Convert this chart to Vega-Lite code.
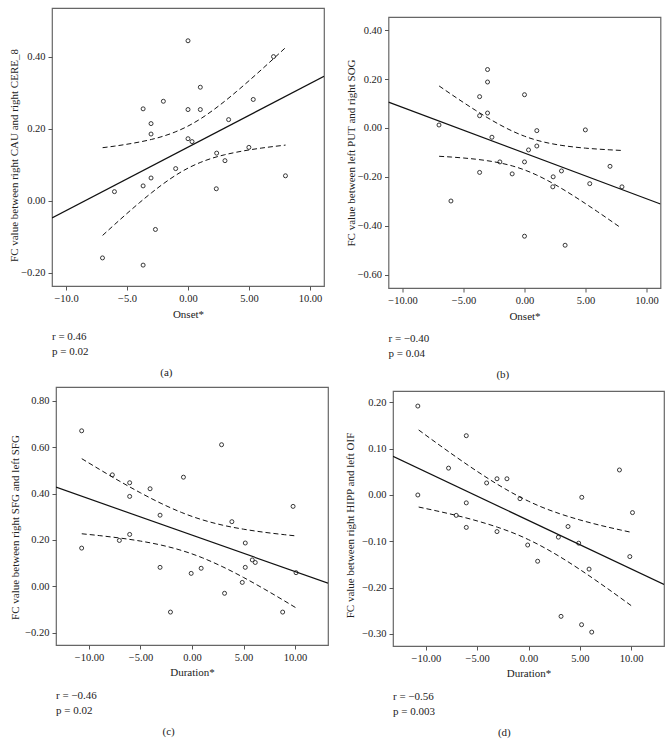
{
  "$schema": "https://vega.github.io/schema/vega-lite/v6.json",
  "padding": {"left": 7, "top": 7, "right": 5, "bottom": 5},
  "background": "white",
  "config": {
    "view": {"stroke": "#666", "strokeWidth": 1.2},
    "axis": {"labelFont": "Liberation Serif", "labelFontSize": 10.5, "titleFont": "Liberation Serif", "titleFontSize": 11, "titleFontWeight": "normal", "labelColor": "#222", "titleColor": "#222", "domain": false, "grid": false, "tickColor": "#555", "tickSize": 4, "labelPadding": 3, "labelFlush": false, "labelOverlap": false},
    "title": {"font": "Liberation Serif", "fontSize": 11, "fontWeight": "normal", "color": "#222"},
    "point": {"shape": "circle", "filled": false, "size": 16, "strokeWidth": 0.9, "color": "#222", "opacity": 1},
    "line": {"color": "#111"}
  },
  "datasets": {
    "gap": [{}],
    "a_pts": [{"x":-7.01,"y":-0.159},{"x":-6.03,"y":0.025},{"x":-3.68,"y":0.255},{"x":-3.68,"y":0.041},{"x":-3.68,"y":-0.179},{"x":-3.03,"y":0.214},{"x":-3.03,"y":0.185},{"x":-3.03,"y":0.063},{"x":-2.67,"y":-0.080},{"x":-2.02,"y":0.276},{"x":-1.01,"y":0.089},{"x":0,"y":0.444},{"x":0,"y":0.253},{"x":0,"y":0.172},{"x":0.33,"y":0.164},{"x":1.01,"y":0.315},{"x":1.01,"y":0.253},{"x":2.35,"y":0.132},{"x":2.32,"y":0.033},{"x":3.03,"y":0.111},{"x":3.33,"y":0.225},{"x":4.99,"y":0.148},{"x":5.35,"y":0.281},{"x":7.01,"y":0.400},{"x":7.99,"y":0.069}],
    "b_pts": [{"x":-7.01,"y":0.012},{"x":-6.03,"y":-0.299},{"x":-3.68,"y":0.128},{"x":-3.68,"y":0.050},{"x":-3.68,"y":-0.182},{"x":-3.03,"y":0.239},{"x":-3.03,"y":0.188},{"x":-3.03,"y":0.061},{"x":-2.67,"y":-0.038},{"x":-2.02,"y":-0.139},{"x":-1.01,"y":-0.188},{"x":0,"y":0.136},{"x":0,"y":-0.139},{"x":0,"y":-0.443},{"x":0.33,"y":-0.090},{"x":1.01,"y":-0.011},{"x":1.01,"y":-0.074},{"x":2.35,"y":-0.200},{"x":2.32,"y":-0.241},{"x":3.03,"y":-0.176},{"x":3.33,"y":-0.480},{"x":4.99,"y":-0.008},{"x":5.35,"y":-0.228},{"x":7.01,"y":-0.157},{"x":7.99,"y":-0.241}],
    "c_pts": [{"x":-10.71,"y":0.671},{"x":-10.71,"y":0.165},{"x":-7.73,"y":0.481},{"x":-7.05,"y":0.198},{"x":-6.05,"y":0.447},{"x":-6.05,"y":0.388},{"x":-6.05,"y":0.224},{"x":-4.07,"y":0.421},{"x":-3.10,"y":0.307},{"x":-3.10,"y":0.082},{"x":-2.09,"y":-0.111},{"x":-0.83,"y":0.471},{"x":-0.08,"y":0.056},{"x":0.89,"y":0.078},{"x":2.87,"y":0.611},{"x":3.16,"y":-0.030},{"x":3.87,"y":0.279},{"x":4.88,"y":0.017},{"x":5.17,"y":0.187},{"x":5.17,"y":0.082},{"x":5.85,"y":0.114},{"x":6.14,"y":0.103},{"x":8.80,"y":-0.111},{"x":9.81,"y":0.345},{"x":10.10,"y":0.059}],
    "d_pts": [{"x":-10.78,"y":0.192},{"x":-10.78,"y":0.000},{"x":-7.79,"y":0.058},{"x":-7.04,"y":-0.044},{"x":-6.06,"y":0.128},{"x":-6.06,"y":-0.017},{"x":-6.06,"y":-0.070},{"x":-4.08,"y":0.026},{"x":-3.07,"y":0.035},{"x":-3.07,"y":-0.079},{"x":-2.10,"y":0.035},{"x":-0.83,"y":-0.008},{"x":-0.08,"y":-0.108},{"x":0.89,"y":-0.143},{"x":2.91,"y":-0.091},{"x":3.17,"y":-0.262},{"x":3.85,"y":-0.068},{"x":4.89,"y":-0.104},{"x":5.19,"y":-0.005},{"x":5.17,"y":-0.280},{"x":5.90,"y":-0.160},{"x":6.16,"y":-0.296},{"x":8.86,"y":0.054},{"x":9.87,"y":-0.133},{"x":10.13,"y":-0.038}],
    "a_fit": [{"x":-11.15,"y":-0.0479},{"x":11.15,"y":0.3453}],
    "b_fit": [{"x":-11.15,"y":0.1054},{"x":11.15,"y":-0.3110}],
    "c_fit": [{"x":-13.2,"y":0.4280},{"x":13.2,"y":0.0138}],
    "d_fit": [{"x":-13.2,"y":0.0834},{"x":13.2,"y":-0.1932}],
    "a_ci": [
      {"x":-7,"y":0.1471,"b":"u"},{"x":-6,"y":0.1515,"b":"u"},{"x":-5,"y":0.1567,"b":"u"},{"x":-4,"y":0.1627,"b":"u"},{"x":-3,"y":0.1700,"b":"u"},{"x":-2,"y":0.1793,"b":"u"},{"x":-1,"y":0.1915,"b":"u"},{"x":0,"y":0.2071,"b":"u"},{"x":1,"y":0.2267,"b":"u"},{"x":2,"y":0.2499,"b":"u"},{"x":3,"y":0.2758,"b":"u"},{"x":4,"y":0.3037,"b":"u"},{"x":5,"y":0.3330,"b":"u"},{"x":6,"y":0.3631,"b":"u"},{"x":7,"y":0.3939,"b":"u"},{"x":8,"y":0.4251,"b":"u"},
      {"x":-7,"y":-0.0965,"b":"l"},{"x":-6,"y":-0.0657,"b":"l"},{"x":-5,"y":-0.0355,"b":"l"},{"x":-4,"y":-0.0063,"b":"l"},{"x":-3,"y":0.0216,"b":"l"},{"x":-2,"y":0.0475,"b":"l"},{"x":-1,"y":0.0707,"b":"l"},{"x":0,"y":0.0903,"b":"l"},{"x":1,"y":0.1059,"b":"l"},{"x":2,"y":0.1181,"b":"l"},{"x":3,"y":0.1274,"b":"l"},{"x":4,"y":0.1347,"b":"l"},{"x":5,"y":0.1408,"b":"l"},{"x":6,"y":0.1459,"b":"l"},{"x":7,"y":0.1503,"b":"l"},{"x":8,"y":0.1543,"b":"l"}
    ],
    "b_ci": [
      {"x":-7,"y":0.1718,"b":"u"},{"x":-6,"y":0.1375,"b":"u"},{"x":-5,"y":0.1040,"b":"u"},{"x":-4,"y":0.0717,"b":"u"},{"x":-3,"y":0.0409,"b":"u"},{"x":-2,"y":0.0124,"b":"u"},{"x":-1,"y":-0.0128,"b":"u"},{"x":0,"y":-0.0338,"b":"u"},{"x":1,"y":-0.0502,"b":"u"},{"x":2,"y":-0.0622,"b":"u"},{"x":3,"y":-0.0711,"b":"u"},{"x":4,"y":-0.0777,"b":"u"},{"x":5,"y":-0.0827,"b":"u"},{"x":6,"y":-0.0865,"b":"u"},{"x":7,"y":-0.0896,"b":"u"},{"x":7.9,"y":-0.0920,"b":"u"},
      {"x":-7,"y":-0.1160,"b":"l"},{"x":-6,"y":-0.1191,"b":"l"},{"x":-5,"y":-0.1230,"b":"l"},{"x":-4,"y":-0.1279,"b":"l"},{"x":-3,"y":-0.1345,"b":"l"},{"x":-2,"y":-0.1434,"b":"l"},{"x":-1,"y":-0.1554,"b":"l"},{"x":0,"y":-0.1718,"b":"l"},{"x":1,"y":-0.1928,"b":"l"},{"x":2,"y":-0.2180,"b":"l"},{"x":3,"y":-0.2465,"b":"l"},{"x":4,"y":-0.2773,"b":"l"},{"x":5,"y":-0.3097,"b":"l"},{"x":6,"y":-0.3431,"b":"l"},{"x":7,"y":-0.3774,"b":"l"},{"x":7.8,"y":-0.4052,"b":"l"}
    ],
    "c_ci": [
      {"x":-10.7,"y":0.5508,"b":"u"},{"x":-9,"y":0.5052,"b":"u"},{"x":-7,"y":0.4530,"b":"u"},{"x":-5,"y":0.4035,"b":"u"},{"x":-3,"y":0.3579,"b":"u"},{"x":-1,"y":0.3185,"b":"u"},{"x":0,"y":0.3017,"b":"u"},{"x":1,"y":0.2871,"b":"u"},{"x":3,"y":0.2637,"b":"u"},{"x":5,"y":0.2466,"b":"u"},{"x":7,"y":0.2334,"b":"u"},{"x":9,"y":0.2228,"b":"u"},{"x":10.1,"y":0.2176,"b":"u"},
      {"x":-10.7,"y":0.2268,"b":"l"},{"x":-9,"y":0.2190,"b":"l"},{"x":-7,"y":0.2084,"b":"l"},{"x":-5,"y":0.1953,"b":"l"},{"x":-3,"y":0.1781,"b":"l"},{"x":-1,"y":0.1547,"b":"l"},{"x":0,"y":0.1401,"b":"l"},{"x":1,"y":0.1233,"b":"l"},{"x":3,"y":0.0839,"b":"l"},{"x":5,"y":0.0384,"b":"l"},{"x":7,"y":-0.0112,"b":"l"},{"x":9,"y":-0.0634,"b":"l"},{"x":10.1,"y":-0.0928,"b":"l"}
    ],
    "d_ci": [
      {"x":-10.7,"y":0.1404,"b":"u"},{"x":-9,"y":0.1129,"b":"u"},{"x":-7,"y":0.0813,"b":"u"},{"x":-5,"y":0.0510,"b":"u"},{"x":-3,"y":0.0227,"b":"u"},{"x":-1,"y":-0.0024,"b":"u"},{"x":0,"y":-0.0134,"b":"u"},{"x":1,"y":-0.0234,"b":"u"},{"x":3,"y":-0.0401,"b":"u"},{"x":5,"y":-0.0538,"b":"u"},{"x":7,"y":-0.0655,"b":"u"},{"x":9,"y":-0.0757,"b":"u"},{"x":10.1,"y":-0.0810,"b":"u"},
      {"x":-10.7,"y":-0.0260,"b":"l"},{"x":-9,"y":-0.0341,"b":"l"},{"x":-7,"y":-0.0443,"b":"l"},{"x":-5,"y":-0.0560,"b":"l"},{"x":-3,"y":-0.0697,"b":"l"},{"x":-1,"y":-0.0864,"b":"l"},{"x":0,"y":-0.0964,"b":"l"},{"x":1,"y":-0.1074,"b":"l"},{"x":3,"y":-0.1325,"b":"l"},{"x":5,"y":-0.1608,"b":"l"},{"x":7,"y":-0.1911,"b":"l"},{"x":9,"y":-0.2227,"b":"l"},{"x":10.1,"y":-0.2404,"b":"l"}
    ]
  },
  "spacing": 5,
  "vconcat": [
    {
      "spacing": 0,
      "hconcat": [
        {"width": 1, "height": 1, "data": {"name": "gap"}, "mark": {"type": "rect", "opacity": 0}, "encoding": {}, "view": {"stroke": null}},
        {
          "spacing": 19.5,
          "hconcat": [
            {
              "spacing": 0,
              "title": {"text": "(a)", "orient": "bottom", "anchor": "middle", "frame": "bounds", "offset": 10},
              "vconcat": [
                {
                  "width": 272, "height": 278,
                  "title": {"text": ["r = 0.46", "p = 0.02"], "orient": "bottom", "anchor": "start", "frame": "group", "offset": 11, "lineHeight": 15},
                  "encoding": {
                    "x": {"field": "x", "type": "quantitative", "title": "Onset*", "scale": {"domain": [-11.15, 11.15], "nice": false, "zero": false}, "axis": {"values": [-10, -5, 0, 5, 10], "labelExpr": "format(datum.value, datum.value < 0 ? '.1f' : '.2f')", "titlePadding": 5}},
                    "y": {"field": "y", "type": "quantitative", "title": "FC value between right CAU and right CERE_8", "scale": {"domain": [-0.237, 0.535], "nice": false, "zero": false}, "axis": {"values": [-0.2, 0, 0.2, 0.4], "format": ".2f", "titlePadding": 1, "titleY": 147}}
                  },
                  "layer": [
                    {"data": {"name": "a_pts"}, "mark": {"type": "point", "clip": true}},
                    {"data": {"name": "a_fit"}, "mark": {"type": "line", "strokeWidth": 1.2, "clip": true}},
                    {"data": {"name": "a_ci"}, "mark": {"type": "line", "strokeWidth": 1, "strokeDash": [5, 3], "interpolate": "monotone", "clip": true}, "encoding": {"detail": {"field": "b"}}}
                  ]
                }
              ]
            },
            {
              "spacing": 0,
              "title": {"text": "(b)", "orient": "bottom", "anchor": "middle", "frame": "bounds", "offset": 10},
              "vconcat": [
                {"width": 1, "height": 8, "data": {"name": "gap"}, "mark": {"type": "rect", "opacity": 0}, "encoding": {}, "view": {"stroke": null}},
                {
                  "width": 272, "height": 271,
                  "title": {"text": ["r = −0.40", "p = 0.04"], "orient": "bottom", "anchor": "start", "frame": "group", "offset": 11, "lineHeight": 15},
                  "encoding": {
                    "x": {"field": "x", "type": "quantitative", "title": "Onset*", "scale": {"domain": [-11.15, 11.15], "nice": false, "zero": false}, "axis": {"values": [-10, -5, 0, 5, 10], "format": ".2f", "titlePadding": 5}},
                    "y": {"field": "y", "type": "quantitative", "title": "FC value between left PUT and right SOG", "scale": {"domain": [-0.655, 0.454], "nice": false, "zero": false}, "axis": {"values": [-0.6, -0.4, -0.2, 0, 0.2, 0.4], "format": ".2f", "titlePadding": 1}}
                  },
                  "layer": [
                    {"data": {"name": "b_pts"}, "mark": {"type": "point", "clip": true}},
                    {"data": {"name": "b_fit"}, "mark": {"type": "line", "strokeWidth": 1.2, "clip": true}},
                    {"data": {"name": "b_ci"}, "mark": {"type": "line", "strokeWidth": 1, "strokeDash": [5, 3], "interpolate": "monotone", "clip": true}, "encoding": {"detail": {"field": "b"}}}
                  ]
                }
              ]
            }
          ]
        }
      ]
    },
    {
      "spacing": 0,
      "hconcat": [
        {"width": 1, "height": 1, "data": {"name": "gap"}, "mark": {"type": "rect", "opacity": 0}, "encoding": {}, "view": {"stroke": null}},
        {
          "spacing": 15,
          "hconcat": [
            {
              "spacing": 0,
              "title": {"text": "(c)", "orient": "bottom", "anchor": "middle", "frame": "bounds", "offset": 9},
              "vconcat": [
                {
                  "width": 272, "height": 258,
                  "title": {"text": ["r = −0.46", "p = 0.02"], "orient": "bottom", "anchor": "start", "frame": "group", "offset": 12.5, "lineHeight": 15},
                  "encoding": {
                    "x": {"field": "x", "type": "quantitative", "title": "Duration*", "scale": {"domain": [-13.2, 13.2], "nice": false, "zero": false}, "axis": {"values": [-10, -5, 0, 5, 10], "format": ".2f", "titlePadding": 4}},
                    "y": {"field": "y", "type": "quantitative", "title": "FC value between right SFG and left SFG", "scale": {"domain": [-0.253, 0.86], "nice": false, "zero": false}, "axis": {"values": [-0.2, 0, 0.2, 0.4, 0.6, 0.8], "format": ".2f", "titlePadding": 4.4, "titleY": 140}}
                  },
                  "layer": [
                    {"data": {"name": "c_pts"}, "mark": {"type": "point", "clip": true}},
                    {"data": {"name": "c_fit"}, "mark": {"type": "line", "strokeWidth": 1.2, "clip": true}},
                    {"data": {"name": "c_ci"}, "mark": {"type": "line", "strokeWidth": 1, "strokeDash": [5, 3], "interpolate": "monotone", "clip": true}, "encoding": {"detail": {"field": "b"}}}
                  ]
                }
              ]
            },
            {
              "spacing": 0,
              "title": {"text": "(d)", "orient": "bottom", "anchor": "middle", "frame": "bounds", "offset": 9},
              "vconcat": [
                {"width": 1, "height": 3, "data": {"name": "gap"}, "mark": {"type": "rect", "opacity": 0}, "encoding": {}, "view": {"stroke": null}},
                {
                  "width": 271, "height": 255,
                  "title": {"text": ["r = −0.56", "p = 0.003"], "orient": "bottom", "anchor": "start", "frame": "group", "offset": 12.5, "lineHeight": 15},
                  "encoding": {
                    "x": {"field": "x", "type": "quantitative", "title": "Duration*", "scale": {"domain": [-13.2, 13.2], "nice": false, "zero": false}, "axis": {"values": [-10, -5, 0, 5, 10], "format": ".2f", "titlePadding": 4}},
                    "y": {"field": "y", "type": "quantitative", "title": "FC value between right HIPP and left OIF", "scale": {"domain": [-0.326, 0.2245], "nice": false, "zero": false}, "axis": {"values": [-0.3, -0.2, -0.1, 0, 0.1, 0.2], "format": ".2f", "titlePadding": 6, "titleY": 134}}
                  },
                  "layer": [
                    {"data": {"name": "d_pts"}, "mark": {"type": "point", "clip": true}},
                    {"data": {"name": "d_fit"}, "mark": {"type": "line", "strokeWidth": 1.2, "clip": true}},
                    {"data": {"name": "d_ci"}, "mark": {"type": "line", "strokeWidth": 1, "strokeDash": [5, 3], "interpolate": "monotone", "clip": true}, "encoding": {"detail": {"field": "b"}}}
                  ]
                }
              ]
            }
          ]
        }
      ]
    }
  ]
}
